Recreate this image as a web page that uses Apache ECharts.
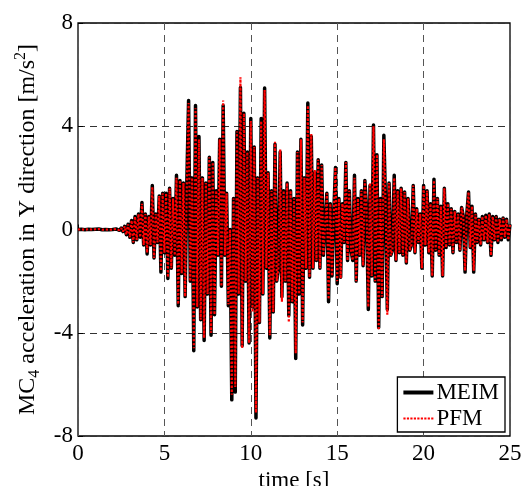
<!DOCTYPE html>
<html>
<head>
<meta charset="utf-8">
<script src="https://cdn.jsdelivr.net/npm/echarts@6/dist/echarts.min.js"></script>
<style>
html,body{margin:0;padding:0;background:#fff;}
#c{width:526px;height:486px;}
</style>
</head>
<body>
<div id="c"></div>
<script>
// sampling: t = i * dt, dt = 0.1 s, 0..25 s
var dt = 0.1;
var seriesNames = ['MEIM', 'PFM'];
var xTicks = [0, 5, 10, 15, 20, 25];
var yTicks = [-8, -4, 0, 4, 8];

var meim = [
  0, 0, 0.01, 0, -0.01, 0, 0.01, 0, 0, -0.01,
  0.01, 0, 0.02, 0, -0.01, 0.01, 0, 0.02, -0.01, 0.01,
  0, -0.02, 0.02, 0, -0.03, 0.05, -0.08, 0.12, -0.2, 0.2,
  -0.3, 0.35, -0.5, 0.5, -0.4, 0.6, -0.3, 1.05, -0.6, 0.6,
  -0.95, 0.5, -0.6, 1.7, -1.1, 0.6, -0.5, 1.3, -1.65, 1.4,
  -0.9, 1.4, -1.9, 1.6, -1.5, 1.2, -1.0, 2.1, -2.95, 1.9,
  -1.7, 1.8, -2.6, 1.9, 5.0, -2.0, 2.0, -4.7, 4.8, -3.0,
  3.6, -3.5, 2.0, -4.3, 1.8, -2.5, 2.8, -4.1, 2.6, -3.3,
  1.5, -1.0, 3.5, -2.2, 4.8, -1.0, 1.4, -2.95, 0.0, -6.6,
  1.2, -6.3, 3.8, -2.5, 5.5, -4.5, 4.5, -2.0, 3.0, -4.4,
  4.3, -3.0, 3.2, -7.3, 2.0, -3.6, 4.3, -2.5, 5.48, -1.5,
  2.2, -4.2, 1.5, -3.2, 3.3, -2.0, -1.5, 3.0, -2.6, 1.5,
  -2.0, 1.8, -3.33, 1.5, -2.8, 1.2, -5.0, 3.0, -2.5, 3.5,
  -3.7, 2.0, -1.5, 4.9, -1.85, 3.6, -1.5, 2.2, -1.2, 2.7,
  -1.5, 2.5, -1.0, -1.0, 1.4, -2.8, 1.0, -1.8, 0.6, 2.4,
  -2.1, 1.2, -1.85, 1.0, -0.5, 2.6, -1.2, 1.5, -0.8, -1.2,
  2.1, -2.0, 1.2, -1.0, 1.5, -1.4, 1.9, 0.8, -3.1, 1.7,
  -1.8, 4.05, -2.0, 2.9, -3.8, 1.2, -2.6, 3.65, 1.0, -3.1,
  1.8, -1.0, -0.8, 2.1, -1.2, 1.5, -0.9, 1.6, -1.0, 1.45,
  -1.3, 1.2, -0.8, -0.6, 1.7, -0.9, 0.8, -0.5, 0.6, -1.5,
  1.7, -0.6, 1.5, -0.9, 1.0, -1.8, 1.95, -0.8, 1.2, -1.0,
  0.9, -1.8, 1.6, -0.7, 1.0, -0.6, 0.8, -0.9, 0.7, -0.5,
  0.6, -0.8, 0.85, 0.5, -1.65, 0.6, 1.45, -0.7, 0.9, -1.65,
  0.6, -0.5, 0.4, -0.6, 0.5, -0.4, 0.55, -0.5, 0.6, -1.0,
  0.5, -0.4, 0.5, -0.5, 0.4, -0.4, 0.45, -0.3, 0.4, -0.4,
  0.2
];

var pfm = [
  0, 0, 0.01, 0, -0.01, 0, 0.01, 0, 0, -0.01,
  0.01, 0, 0.02, 0, -0.01, 0.01, 0, 0.02, -0.01, 0.01,
  0, -0.02, 0.02, 0, -0.03, 0.05, -0.08, 0.12, -0.2, 0.2,
  -0.3, 0.35, -0.5, 0.5, -0.4, 0.6, -0.3, 1.0, -0.6, 0.6,
  -0.9, 0.5, -0.6, 1.65, -1.1, 0.6, -0.5, 1.3, -1.6, 1.4,
  -0.9, 1.4, -1.85, 1.6, -1.5, 1.2, -1.0, 2.0, -2.9, 1.9,
  -1.7, 1.8, -2.6, 1.9, 4.9, -2.0, 2.0, -4.6, 4.7, -3.0,
  3.5, -3.5, 2.0, -4.2, 1.8, -2.5, 2.8, -4.0, 2.6, -3.3,
  1.5, -1.0, 3.5, -2.2, 5.0, -1.0, 1.4, -2.9, 0.0, -6.4,
  1.2, -6.1, 3.8, -2.5, 5.9, -4.6, 4.5, -2.0, 3.0, -4.4,
  4.2, -3.2, 3.2, -7.1, 2.0, -3.6, 4.2, -2.5, 5.4, -1.5,
  2.2, -4.1, 1.5, -3.2, 3.4, -2.0, -1.5, 3.1, -2.8, 1.5,
  -2.0, 1.8, -3.6, 1.5, -2.8, 1.2, -4.8, 3.0, -2.5, 3.5,
  -3.6, 2.0, -1.5, 4.8, -1.85, 3.7, -1.5, 2.3, -1.2, 2.7,
  -1.5, 2.5, -1.0, -1.0, 1.4, -2.7, 1.0, -1.8, 0.6, 2.4,
  -2.0, 1.2, -1.9, 1.0, -0.5, 2.6, -1.2, 1.5, -0.8, -1.2,
  2.0, -2.0, 1.2, -1.0, 1.5, -1.4, 1.9, 0.8, -3.0, 1.8,
  -1.8, 4.0, -2.0, 2.9, -3.9, 1.2, -2.6, 3.5, 1.0, -3.3,
  1.8, -1.0, -0.8, 2.0, -1.2, 1.5, -0.9, 1.6, -1.0, 1.45,
  -1.3, 1.2, -0.8, -0.6, 1.7, -0.9, 0.8, -0.5, 0.6, -1.5,
  1.7, -0.6, 1.5, -0.9, 1.0, -1.8, 1.9, -0.8, 1.2, -1.0,
  0.9, -1.8, 1.6, -0.7, 1.0, -0.6, 0.8, -0.9, 0.7, -0.5,
  0.6, -0.8, 0.85, 0.5, -1.6, 0.6, 1.45, -0.7, 0.9, -1.6,
  0.6, -0.5, 0.4, -0.6, 0.5, -0.4, 0.55, -0.5, 0.6, -1.0,
  0.5, -0.4, 0.5, -0.5, 0.4, -0.4, 0.45, -0.3, 0.4, -0.4,
  0.2
];

function pairs(arr) {
  return arr.map(function (v, i) { return [Math.round(i * dt * 100) / 100, v]; });
}

var dotIcon = 'path://M0,0h2.2v2.2h-2.2z M3.5,0h2.2v2.2h-2.2z M7,0h2.2v2.2h-2.2z M10.5,0h2.2v2.2h-2.2z ' +
  'M14,0h2.2v2.2h-2.2z M17.5,0h2.2v2.2h-2.2z M21,0h2.2v2.2h-2.2z M24.5,0h2.2v2.2h-2.2z M28,0h2.2v2.2h-2.2z';

var serif = '"Liberation Serif", "Times New Roman", serif';
var chart = echarts.init(document.getElementById('c'), null, {renderer: 'canvas'});

chart.setOption({
  animation: false,
  backgroundColor: '#fff',
  grid: {left: 78, right: 16, top: 23, bottom: 50, containLabel: false, outerBoundsMode: 'none',
         show: true, borderColor: '#000', borderWidth: 1.3, backgroundColor: 'transparent'},
  legend: {
    orient: 'vertical', right: 21, bottom: 54,
    backgroundColor: '#fff', borderColor: '#000', borderWidth: 1.3,
    padding: [4, 6, 2, 6], itemGap: 3, itemWidth: 30, itemHeight: 14,
    textStyle: {fontFamily: serif, fontSize: 23, color: '#000', padding: [0, 0, 0, -2]},
    data: [
      {name: seriesNames[0], icon: 'path://M0,0 L30,0 L30,4 L0,4 Z', itemStyle: {color: '#000'}},
      {name: seriesNames[1], icon: dotIcon, itemStyle: {color: '#ff0000'}}
    ]
  },
  xAxis: {
    type: 'value', min: xTicks[0], max: xTicks[xTicks.length - 1], interval: 5,
    name: 'time [s]', nameLocation: 'middle', nameGap: 26,
    nameTextStyle: {fontFamily: serif, fontSize: 23, color: '#000', verticalAlign: 'top'},
    axisLine: {show: false},
    axisTick: {show: true, inside: true, length: 5, lineStyle: {color: '#000'}},
    axisLabel: {fontFamily: serif, fontSize: 23, color: '#000', margin: 6},
    splitLine: {show: true, lineStyle: {color: '#555', type: [7, 5], width: 1}}
  },
  yAxis: {
    type: 'value', min: yTicks[0], max: yTicks[yTicks.length - 1], interval: 4,
    name: '{a|MC}{s|4}{a| acceleration in Y direction [m/s}{p|2}{a|]}',
    nameLocation: 'middle', nameRotate: 90, nameGap: 30,
    nameTextStyle: {
      fontFamily: serif, fontSize: 24, color: '#000',
      rich: {
        a: {fontFamily: serif, fontSize: 24, color: '#000', lineHeight: 30, verticalAlign: 'middle'},
        s: {fontFamily: serif, fontSize: 16, color: '#000', lineHeight: 14, verticalAlign: 'bottom'},
        p: {fontFamily: serif, fontSize: 16, color: '#000', lineHeight: 14, verticalAlign: 'top'}
      }
    },
    axisLine: {show: false},
    axisTick: {show: true, inside: true, length: 5, lineStyle: {color: '#000'}},
    axisLabel: {fontFamily: serif, fontSize: 23, color: '#000', margin: 5},
    splitLine: {show: true, lineStyle: {color: '#333', type: [7, 5], width: 1}}
  },
  series: [
    {
      name: seriesNames[0], type: 'line', data: pairs(meim), showSymbol: false, symbol: 'none',
      lineStyle: {color: '#000', width: 3.5, type: 'solid', join: 'round'},
      itemStyle: {color: '#000'}, z: 2
    },
    {
      name: seriesNames[1], type: 'line', data: pairs(pfm), showSymbol: false, symbol: 'none',
      lineStyle: {color: '#ff0000', width: 2.2, type: [2.2, 1.8]},
      itemStyle: {color: '#ff0000'}, z: 3
    }
  ]
});
</script>
</body>
</html>
